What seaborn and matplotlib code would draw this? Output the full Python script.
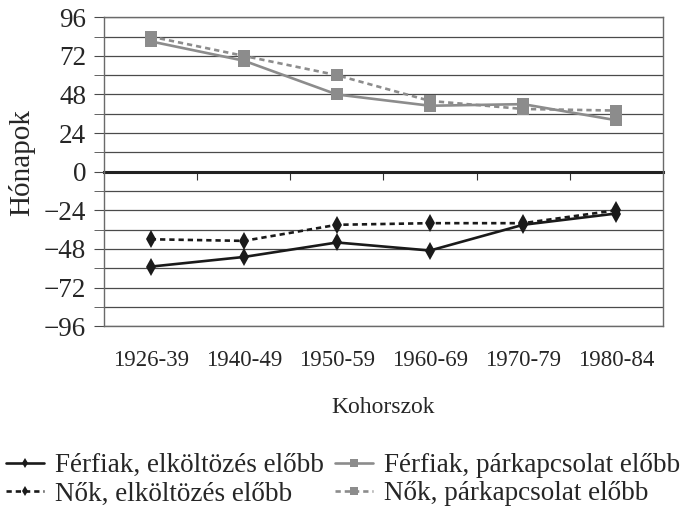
import numpy as np
import pandas as pd
import matplotlib
matplotlib.use('Agg')
import matplotlib.pyplot as plt
import seaborn as sns

# data
cohorts = ['1926-39', '1940-49', '1950-59', '1960-69', '1970-79', '1980-84']
ffi_elk = [-59, -53, -44, -49, -33, -26]
nok_elk = [-42, -43, -33, -32, -32, -24]
ffi_park = [81, 69, 48, 41, 42, 32]
nok_park = [84, 72, 60, 44, 39, 38]
series_names = ['Férfiak, elköltözés előbb', 'Nők, elköltözés előbb',
                'Férfiak, párkapcsolat előbb', 'Nők, párkapcsolat előbb']

rows = []
for name, vals in zip(series_names, [ffi_elk, nok_elk, ffi_park, nok_park]):
    for i, v in enumerate(vals):
        rows.append({'pos': i, 'val': v, 'series': name})
df = pd.DataFrame(rows)

sns.set_style('white')
plt.rcParams['font.family'] = ['Liberation Serif', 'DejaVu Serif']
plt.rcParams['axes.unicode_minus'] = True

GRAY = '#8c8c8c'
palette = {series_names[0]: '#1a1a1a', series_names[1]: '#1a1a1a',
           series_names[2]: GRAY, series_names[3]: GRAY}
dashes = {series_names[0]: '', series_names[1]: (2, 1.5),
          series_names[2]: '', series_names[3]: (2, 1.5)}
markers = {series_names[0]: 'd', series_names[1]: 'd',
           series_names[2]: 's', series_names[3]: 's'}

fig = plt.figure(figsize=(6.86, 5.08), dpi=100)
ax = fig.add_axes([0.152, 0.358, 0.814, 0.608])

# grid every 12 months
for v in np.arange(-96, 97, 12):
    ax.axhline(v, color='#4a4a4a', lw=0.9, zorder=0)

sns.lineplot(data=df, x='pos', y='val', hue='series', style='series',
             hue_order=series_names, style_order=series_names,
             palette=palette, dashes=dashes, markers=markers,
             linewidth=1.9, markersize=9, markeredgewidth=0, ax=ax)
for ln in ax.get_lines():
    ln.set_markeredgecolor(ln.get_color())

ax.set_xlim(-0.5, 5.5)
ax.set_ylim(-96, 96)
ax.set_yticks(np.arange(-96, 97, 24))
ax.set_yticks(np.arange(-84, 96, 24), minor=True)
ax.set_xticks(range(len(cohorts)))
ax.set_xticklabels(cohorts, fontsize=16.5)
ax.tick_params(axis='x', length=0, pad=17)
ax.tick_params(axis='y', which='both', direction='out', length=7,
               color='#4a4a4a', labelsize=19.5, left=True, pad=6)
for s in ax.spines.values():
    s.set_color('#6a6a6a')
    s.set_linewidth(1.0)

# zero axis with category separators
sec = ax.secondary_xaxis(0.5)
sec.set_xticks(np.arange(0.5, 5, 1))
sec.set_xticklabels([])
sec.tick_params(axis='x', which='both', direction='in', length=6,
                color='#333333', top=True, bottom=False,
                labeltop=False, labelbottom=False)
for s in sec.spines.values():
    s.set_linewidth(2.2)
    s.set_color('#222222')

ax.set_xlabel('Kohorszok', fontsize=17, labelpad=19)
ax.set_ylabel('Hónapok', fontsize=21)
ax.yaxis.set_label_coords(-0.124, 0.53)

handles, labels = ax.get_legend_handles_labels()
ax.get_legend().remove()
fig.legend(handles, labels, loc='lower center', bbox_to_anchor=(0.5, -0.045),
           ncol=2, frameon=False, fontsize=19.5, handlelength=1.4,
           handletextpad=0.4, columnspacing=0.4, labelspacing=0.12,
           markerscale=0.6)

fig.savefig('out.png', dpi=100)
